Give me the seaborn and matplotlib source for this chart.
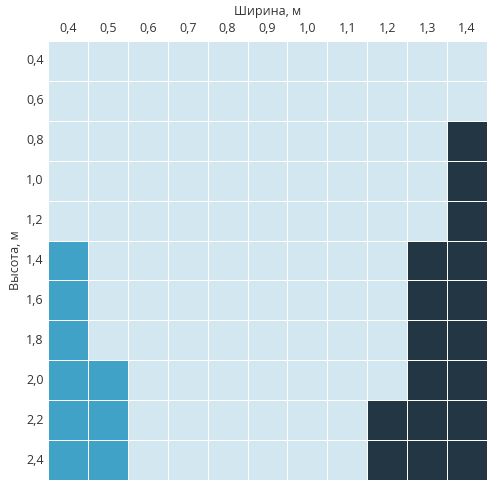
import numpy as np
import pandas as pd
import matplotlib
matplotlib.use("Agg")
import matplotlib.pyplot as plt
import seaborn as sns
from matplotlib.colors import ListedColormap

widths = ["0,4", "0,5", "0,6", "0,7", "0,8", "0,9", "1,0", "1,1", "1,2", "1,3", "1,4"]
heights = ["0,4", "0,6", "0,8", "1,0", "1,2", "1,4", "1,6", "1,8", "2,0", "2,2", "2,4"]
# number of medium-blue cells from the left, per row
medium_count = [0, 0, 0, 0, 0, 1, 1, 1, 2, 2, 2]
# number of dark cells from the right, per row
dark_count = [0, 0, 1, 1, 1, 2, 2, 2, 2, 3, 3]
colors = ["#d3e7f0", "#40a2c7", "#223743"]

n = len(widths)
mat = np.zeros((len(heights), n), dtype=int)
for i, (m, d) in enumerate(zip(medium_count, dark_count)):
    mat[i, :m] = 1
    if d:
        mat[i, n - d:] = 2
df = pd.DataFrame(mat, index=heights, columns=widths)

sns.set_theme(style="white")
plt.rcParams['font.family'] = ['Open Sans', 'DejaVu Sans']
fig = plt.figure(figsize=(5, 5), dpi=100)
ax = fig.add_axes([0.096, 0.04, 0.878, 0.878])
sns.heatmap(df, ax=ax, cmap=ListedColormap(colors), vmin=-0.5, vmax=2.5,
            cbar=False, linewidths=0.7, linecolor="white", square=False)
ax.xaxis.tick_top()
ax.xaxis.set_label_position("top")
ax.set_xlabel("Ширина, м", fontsize=9, color="#333333", labelpad=5)
ax.set_ylabel("Высота, м", fontsize=9, color="#333333", labelpad=3)
ax.tick_params(axis="both", length=0, labelsize=9, colors="#333333")
ax.tick_params(axis="x", pad=4)
ax.tick_params(axis="y", pad=3)
plt.setp(ax.get_yticklabels(), rotation=0)
plt.setp(ax.get_xticklabels(), rotation=0)
fig.savefig("out.png", dpi=100, facecolor="white")
